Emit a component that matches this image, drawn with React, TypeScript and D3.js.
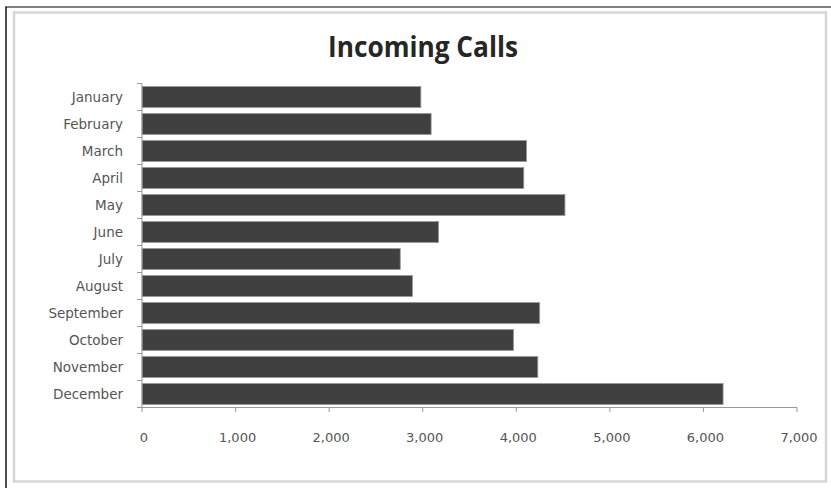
import React from "react";
import * as d3 from "d3";

const months = ["January","February","March","April","May","June","July","August","September","October","November","December"];
const calls = [2980, 3090, 4110, 4080, 4520, 3170, 2760, 2890, 4250, 3970, 4230, 6210];
const xTicks = [0, 1000, 2000, 3000, 4000, 5000, 6000, 7000];
const title = "Incoming Calls";

export default function App() {
  const W = 831, H = 488;
  const x = d3.scaleLinear().domain([0, 7000]).range([142, 797]);
  const y = d3.scaleBand<string>().domain(months).range([83.5, 407.5]).paddingInner(0.22).paddingOuter(0.11);
  const fmt = d3.format(",");
  const step = y.step();
  const boundaries = d3.range(months.length + 1).map(i => 83.5 + i * step);
  return (
    <svg width={W} height={H} style={{ position: "absolute", left: 0, top: 0, background: "#fff" }}>
      <rect x={0} y={0} width={W} height={H} fill="#fff" />
      <rect x={14} y={12.5} width={812} height={469} fill="none" stroke="#d6d6d6" strokeWidth={2.5} />
      <line x1={5} x2={W} y1={7} y2={7} stroke="#555" strokeWidth={1.5} />
      <line x1={6} x2={6} y1={7} y2={H} stroke="#111" strokeWidth={1.5} />
      <text x={423} y={57} textAnchor="middle" fontFamily="'Open Sans', sans-serif" fontWeight={700} fontSize={28} fill="#262626" textLength={190} lengthAdjust="spacingAndGlyphs">{title}</text>
      {calls.map((v, i) => (
        <rect key={months[i]} x={x(0)} y={y(months[i])} width={x(v) - x(0)} height={y.bandwidth()} fill="#404040" stroke="#9a9a9a" strokeWidth={0.8} />
      ))}
      <line x1={142} x2={142} y1={83.5} y2={407.5} stroke="#999" strokeWidth={1} />
      {boundaries.map((b, i) => (
        <line key={"yt" + i} x1={137} x2={142} y1={b} y2={b} stroke="#999" strokeWidth={1} />
      ))}
      <line x1={142} x2={797} y1={407.5} y2={407.5} stroke="#999" strokeWidth={1} />
      {xTicks.map(t => (
        <g key={"xt" + t}>
          <line x1={x(t)} x2={x(t)} y1={407.5} y2={412} stroke="#999" strokeWidth={1} />
          <text x={x(t) + 2} y={442} textAnchor="middle" fontFamily="'DejaVu Sans', sans-serif" fontSize={13} fill="#555">{fmt(t)}</text>
        </g>
      ))}
      {months.map(m => (
        <text key={"yl" + m} x={123} y={(y(m) as number) + y.bandwidth() / 2 + 4.5} textAnchor="end" fontFamily="'DejaVu Sans', sans-serif" fontSize={13.5} fill="#555">{m}</text>
      ))}
    </svg>
  );
}
